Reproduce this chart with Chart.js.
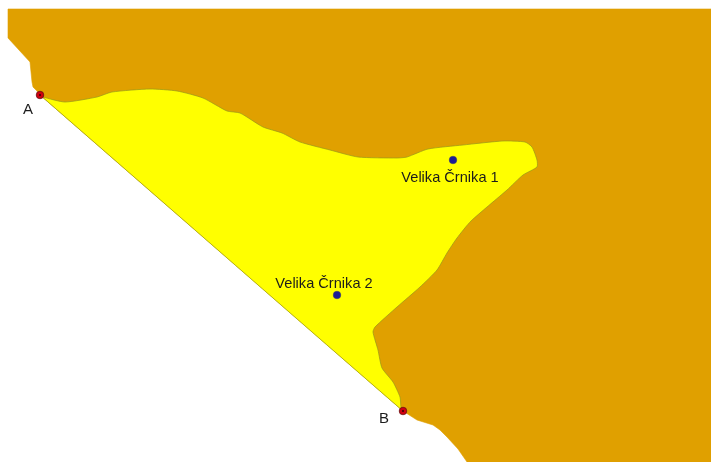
<!DOCTYPE html>
<html>
<head>
<meta charset="utf-8">
<script src="https://cdn.jsdelivr.net/npm/chart.js@4"></script>
<style>
    html, body { margin: 0; padding: 0; background: #fff; }
    canvas { display: block; }
</style>
</head>
<body>
<canvas id="mapChart" width="711" height="462"></canvas>
<script>
// Outlines, x to the right, y downwards
const landX = [8, 711, 711, 467, 458, 447, 440, 433, 417, 403, 40, 37, 33, 32, 30, 8, 8];
const landY = [9, 9, 462, 462, 449, 437, 430, 425, 420, 411, 95, 91, 87, 82, 62, 38, 9];

const areaX = [40, 43, 65, 97, 112, 150, 177, 203, 227, 240, 263, 282, 300, 330, 358, 397, 407, 428, 463, 503, 525, 532, 537, 537, 523, 507, 471, 457, 447, 437, 420, 397, 375, 373, 378, 382, 393, 400, 401, 403, 40];
const areaY = [95, 97, 102, 97, 92, 89, 91, 98, 111, 113, 127, 133, 142, 150, 157, 158, 157, 149, 145, 141, 142, 147, 160, 167, 175, 190, 221, 238, 253, 270, 287, 307, 327, 332, 350, 368, 382, 397, 407, 411, 95];

const wellNames = ['Velika Črnika 1', 'Velika Črnika 2'];
const wellX = [453, 337];
const wellY = [160, 295];

const endNames = ['A', 'B'];
const endX = [40, 403];
const endY = [95, 411];

const zip = (xs, ys) => xs.map((x, i) => ({ x: x, y: ys[i] }));

// Text labels placed through the scales, same as the marks
const labelPlugin = {
    id: 'mapLabels',
    afterDatasetsDraw(chart) {
        const { ctx, scales } = chart;
        ctx.save();
        ctx.fillStyle = '#1c1c1c';
        ctx.textBaseline = 'middle';
        ctx.font = '14.6px "Liberation Sans", Arial, sans-serif';
        ctx.textAlign = 'center';
        const nameOffsets = [[-3, 18], [-13, -11]];
        wellNames.forEach((name, i) => {
            ctx.fillText(name,
                scales.x.getPixelForValue(wellX[i] + nameOffsets[i][0]),
                scales.y.getPixelForValue(wellY[i] + nameOffsets[i][1]));
        });
        ctx.font = '15px "Liberation Sans", Arial, sans-serif';
        const endOffsets = [[-12, 15], [-19, 8]];
        endNames.forEach((name, i) => {
            ctx.fillText(name,
                scales.x.getPixelForValue(endX[i] + endOffsets[i][0]),
                scales.y.getPixelForValue(endY[i] + endOffsets[i][1]));
        });
        ctx.restore();
    }
};

function renderMap() {
    const ctx = document.getElementById('mapChart').getContext('2d');
    new Chart(ctx, {
        type: 'scatter',
        data: {
            datasets: [
                {
                    label: 'Land',
                    data: zip(landX, landY),
                    showLine: true,
                    fill: 'shape',
                    backgroundColor: '#e0a000',
                    borderColor: '#e0a000',
                    borderWidth: 0.6,
                    tension: 0,
                    pointRadius: 0,
                    clip: false,
                    order: 5
                },
                {
                    label: 'Area',
                    data: zip(areaX, areaY),
                    showLine: true,
                    fill: 'shape',
                    backgroundColor: '#ffff00',
                    borderColor: '#97971a',
                    borderWidth: 0.7,
                    tension: 0.2,
                    pointRadius: 0,
                    order: 4
                },
                {
                    label: 'Wells',
                    data: zip(wellX, wellY),
                    pointRadius: 3.8,
                    pointBackgroundColor: '#1c1c96',
                    pointBorderColor: '#3a3a6a',
                    pointBorderWidth: 0.5,
                    order: 3
                },
                {
                    label: 'Ends',
                    data: zip(endX, endY),
                    pointRadius: 3.8,
                    pointBackgroundColor: '#d00010',
                    pointBorderColor: '#5a1010',
                    pointBorderWidth: 0.7,
                    order: 2
                },
                {
                    label: 'End centres',
                    data: zip(endX, endY),
                    pointRadius: 1,
                    pointBackgroundColor: '#300000',
                    pointBorderWidth: 0,
                    order: 1
                }
            ]
        },
        options: {
            responsive: false,
            animation: false,
            layout: { padding: 0, autoPadding: false },
            plugins: {
                legend: { display: false },
                tooltip: { enabled: false }
            },
            scales: {
                x: { type: 'linear', min: 0, max: 711, display: false },
                y: { type: 'linear', min: 0, max: 462, reverse: true, display: false }
            }
        },
        plugins: [labelPlugin]
    });
}

renderMap();
</script>
</body>
</html>
